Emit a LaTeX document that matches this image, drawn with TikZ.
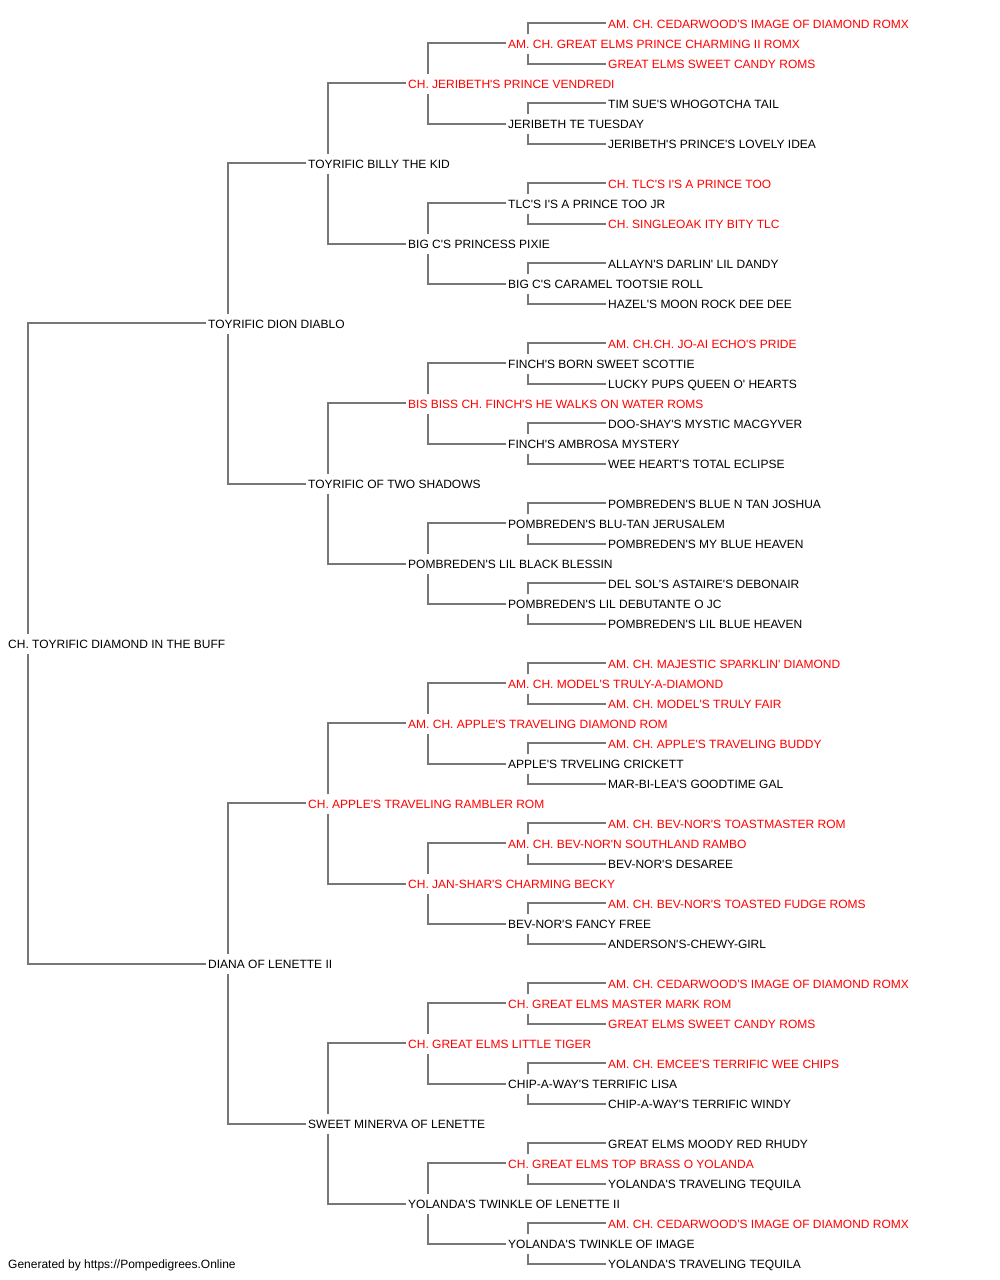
\documentclass[tikz,border=0pt]{standalone}
\usepackage{fontspec}
\setmainfont{Liberation Sans}[Ligatures=TeXOff]
\definecolor{linegray}{RGB}{119,119,119}
\definecolor{champred}{RGB}{255,0,0}
\newcommand\pedlink[3]{%
  \draw[link] ([yshift=1pt]#2.west) -| ([xshift=20pt]#1.north west);
  \draw[link] (#3.west) -| ([xshift=20pt]#1.south west);}
\begin{document}
\begin{tikzpicture}[x=1pt,y=-1pt,
  person/.style={anchor=west, inner sep=0pt, text height=8.6pt, text depth=0pt,
    minimum height=20pt, font=\fontsize{12}{14}\selectfont, text=black},
  champ/.style={person, text=champred},
  link/.style={draw=linegray, line width=2pt, shorten <=2pt}]
\fill[white] (0,0) rectangle (1000,1280);
\useasboundingbox (0,0) rectangle (1000,1280);
% generation 0
\node[person] (x) at (8,644) {CH. TOYRIFIC DIAMOND IN THE BUFF};
% generation 1
\node[person] (xs) at (208,324) {TOYRIFIC DION DIABLO};
\node[person] (xd) at (208,964) {DIANA OF LENETTE II};
% generation 2
\node[person] (xss) at (308,164) {TOYRIFIC BILLY THE KID};
\node[person] (xsd) at (308,484) {TOYRIFIC OF TWO SHADOWS};
\node[champ] (xds) at (308,804) {CH. APPLE'S TRAVELING RAMBLER ROM};
\node[person] (xdd) at (308,1124) {SWEET MINERVA OF LENETTE};
% generation 3
\node[champ] (xsss) at (408,84) {CH. JERIBETH'S PRINCE VENDREDI};
\node[person] (xssd) at (408,244) {BIG C'S PRINCESS PIXIE};
\node[champ] (xsds) at (408,404) {BIS BISS CH. FINCH'S HE WALKS ON WATER ROMS};
\node[person] (xsdd) at (408,564) {POMBREDEN'S LIL BLACK BLESSIN};
\node[champ] (xdss) at (408,724) {AM. CH. APPLE'S TRAVELING DIAMOND ROM};
\node[champ] (xdsd) at (408,884) {CH. JAN-SHAR'S CHARMING BECKY};
\node[champ] (xdds) at (408,1044) {CH. GREAT ELMS LITTLE TIGER};
\node[person] (xddd) at (408,1204) {YOLANDA'S TWINKLE OF LENETTE II};
% generation 4
\node[champ] (xssss) at (508,44) {AM. CH. GREAT ELMS PRINCE CHARMING II ROMX};
\node[person] (xsssd) at (508,124) {JERIBETH TE TUESDAY};
\node[person] (xssds) at (508,204) {TLC'S I'S A PRINCE TOO JR};
\node[person] (xssdd) at (508,284) {BIG C'S CARAMEL TOOTSIE ROLL};
\node[person] (xsdss) at (508,364) {FINCH'S BORN SWEET SCOTTIE};
\node[person] (xsdsd) at (508,444) {FINCH'S AMBROSA MYSTERY};
\node[person] (xsdds) at (508,524) {POMBREDEN'S BLU-TAN JERUSALEM};
\node[person] (xsddd) at (508,604) {POMBREDEN'S LIL DEBUTANTE O JC};
\node[champ] (xdsss) at (508,684) {AM. CH. MODEL'S TRULY-A-DIAMOND};
\node[person] (xdssd) at (508,764) {APPLE'S TRVELING CRICKETT};
\node[champ] (xdsds) at (508,844) {AM. CH. BEV-NOR'N SOUTHLAND RAMBO};
\node[person] (xdsdd) at (508,924) {BEV-NOR'S FANCY FREE};
\node[champ] (xddss) at (508,1004) {CH. GREAT ELMS MASTER MARK ROM};
\node[person] (xddsd) at (508,1084) {CHIP-A-WAY'S TERRIFIC LISA};
\node[champ] (xddds) at (508,1164) {CH. GREAT ELMS TOP BRASS O YOLANDA};
\node[person] (xdddd) at (508,1244) {YOLANDA'S TWINKLE OF IMAGE};
% generation 5
\node[champ] (xsssss) at (608,24) {AM. CH. CEDARWOOD'S IMAGE OF DIAMOND ROMX};
\node[champ] (xssssd) at (608,64) {GREAT ELMS SWEET CANDY ROMS};
\node[person] (xsssds) at (608,104) {TIM SUE'S WHOGOTCHA TAIL};
\node[person] (xsssdd) at (608,144) {JERIBETH'S PRINCE'S LOVELY IDEA};
\node[champ] (xssdss) at (608,184) {CH. TLC'S I'S A PRINCE TOO};
\node[champ] (xssdsd) at (608,224) {CH. SINGLEOAK ITY BITY TLC};
\node[person] (xssdds) at (608,264) {ALLAYN'S DARLIN' LIL DANDY};
\node[person] (xssddd) at (608,304) {HAZEL'S MOON ROCK DEE DEE};
\node[champ] (xsdsss) at (608,344) {AM. CH.CH. JO-AI ECHO'S PRIDE};
\node[person] (xsdssd) at (608,384) {LUCKY PUPS QUEEN O' HEARTS};
\node[person] (xsdsds) at (608,424) {DOO-SHAY'S MYSTIC MACGYVER};
\node[person] (xsdsdd) at (608,464) {WEE HEART'S TOTAL ECLIPSE};
\node[person] (xsddss) at (608,504) {POMBREDEN'S BLUE N TAN JOSHUA};
\node[person] (xsddsd) at (608,544) {POMBREDEN'S MY BLUE HEAVEN};
\node[person] (xsddds) at (608,584) {DEL SOL'S ASTAIRE'S DEBONAIR};
\node[person] (xsdddd) at (608,624) {POMBREDEN'S LIL BLUE HEAVEN};
\node[champ] (xdssss) at (608,664) {AM. CH. MAJESTIC SPARKLIN' DIAMOND};
\node[champ] (xdsssd) at (608,704) {AM. CH. MODEL'S TRULY FAIR};
\node[champ] (xdssds) at (608,744) {AM. CH. APPLE'S TRAVELING BUDDY};
\node[person] (xdssdd) at (608,784) {MAR-BI-LEA'S GOODTIME GAL};
\node[champ] (xdsdss) at (608,824) {AM. CH. BEV-NOR'S TOASTMASTER ROM};
\node[person] (xdsdsd) at (608,864) {BEV-NOR'S DESAREE};
\node[champ] (xdsdds) at (608,904) {AM. CH. BEV-NOR'S TOASTED FUDGE ROMS};
\node[person] (xdsddd) at (608,944) {ANDERSON'S-CHEWY-GIRL};
\node[champ] (xddsss) at (608,984) {AM. CH. CEDARWOOD'S IMAGE OF DIAMOND ROMX};
\node[champ] (xddssd) at (608,1024) {GREAT ELMS SWEET CANDY ROMS};
\node[champ] (xddsds) at (608,1064) {AM. CH. EMCEE'S TERRIFIC WEE CHIPS};
\node[person] (xddsdd) at (608,1104) {CHIP-A-WAY'S TERRIFIC WINDY};
\node[person] (xdddss) at (608,1144) {GREAT ELMS MOODY RED RHUDY};
\node[person] (xdddsd) at (608,1184) {YOLANDA'S TRAVELING TEQUILA};
\node[champ] (xdddds) at (608,1224) {AM. CH. CEDARWOOD'S IMAGE OF DIAMOND ROMX};
\node[person] (xddddd) at (608,1264) {YOLANDA'S TRAVELING TEQUILA};
% connectors
\foreach \n in {x,xs,xd,xss,xsd,xds,xdd,xsss,xssd,xsds,xsdd,xdss,xdsd,xdds,xddd,
  xssss,xsssd,xssds,xssdd,xsdss,xsdsd,xsdds,xsddd,xdsss,xdssd,xdsds,xdsdd,xddss,xddsd,xddds,xdddd}
  {\pedlink{\n}{\n s}{\n d}}
% footer
\node[anchor=base west, inner sep=0pt, font=\fontsize{12}{14}\selectfont] (footer) at (8,1268.3)
  {Generated by https://Pompedigrees.Online};
\end{tikzpicture}
\end{document}
